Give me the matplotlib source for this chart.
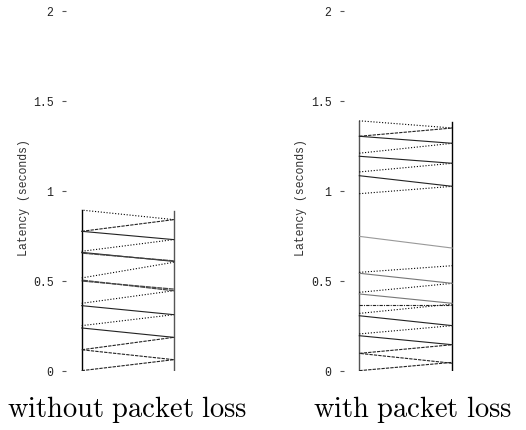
import matplotlib
matplotlib.use("Agg")
import matplotlib.pyplot as plt

# --- data: message send / receive times (seconds) ---
# side: 0 = message goes left->right, 1 = right->left
ticks = [0, 0.5, 1, 1.5, 2]
tick_labels = ["0", "0.5", "1", "1.5", "2"]
titles = ["without packet loss", "with packet loss"]
ylabel = "Latency (seconds)"

# without packet loss
nl_send = [0.002, 0.063, 0.118, 0.187, 0.252, 0.313, 0.376, 0.446, 0.455,
           0.517, 0.609, 0.612, 0.665, 0.730, 0.776, 0.841]
nl_recv = [0.063, 0.118, 0.187, 0.239, 0.313, 0.363, 0.446, 0.505, 0.500,
           0.604, 0.659, 0.655, 0.730, 0.776, 0.841, 0.894]
nl_side = [0, 1, 0, 1, 0, 1, 0, 1, 1, 0, 1, 1, 0, 1, 0, 1]
nl_kind = ["dash", "dash", "dash", "solid", "dot", "solid", "dot", "dense",
           "dense", "dot", "solid", "dense", "dot", "solid", "dash", "dot"]
nl_top = 0.894

# with packet loss
pl_send = [0.002, 0.043, 0.098, 0.146, 0.206, 0.252, 0.320, 0.367, 0.376,
           0.437, 0.487, 0.548, 0.683, 0.985, 1.026, 1.106, 1.154, 1.210,
           1.265, 1.304, 1.350]
pl_recv = [0.048, 0.098, 0.146, 0.196, 0.252, 0.307, 0.372, 0.367, 0.428,
           0.487, 0.543, 0.585, 0.748, 1.026, 1.085, 1.154, 1.193, 1.265,
           1.304, 1.350, 1.390]
pl_side = [0, 1, 0, 1, 0, 1, 0, 0, 1, 0, 1, 0, 1, 0, 1, 0, 1, 0, 1, 0, 1]
pl_kind = ["dash", "dash", "dash", "solid", "dot", "solid", "dot", "dashdot",
           "gray", "dot", "gray", "dot", "light", "dot", "solid", "dot",
           "solid", "dot", "solid", "dash", "dot"]
pl_top = 1.39

styles = {
    "dot": dict(color="black", ls=(0, (1, 1.6)), lw=0.8),
    "dash": dict(color="#222222", ls=(0, (3, 1)), lw=0.8),
    "dense": dict(color="#444444", ls=(0, (4, 0.6)), lw=0.9),
    "solid": dict(color="#222222", ls="-", lw=0.8),
    "gray": dict(color="#777777", ls="-", lw=0.8),
    "light": dict(color="#999999", ls="-", lw=0.8),
    "dashdot": dict(color="#222222", ls=(0, (3, 1, 1, 1)), lw=0.8),
}

plt.rcParams["mathtext.fontset"] = "cm"
W, H = 526, 431
fig = plt.figure(figsize=(W / 100, H / 100), dpi=100)


def panel(x_axis, x_left, x_right, send, recv, side, kind, top, colors, title, title_x):
    unit = x_right - x_left
    x0 = (x_axis - x_left) / unit
    x1 = (x_axis + 120 - x_left) / unit
    ax = fig.add_axes([x_axis / W, (H - 372) / H, 120 / W, 360 / H])
    ax.set_xlim(x0, x1)
    ax.set_ylim(0, 2)
    for s in ax.spines.values():
        s.set_visible(False)
    ax.set_xticks([])
    ax.set_yticks(ticks)
    ax.set_yticklabels(tick_labels, family="Liberation Mono", fontsize=8.3, color="#222222")
    ax.tick_params(axis="y", direction="out", length=3, width=0.8, pad=6, color="#555555")

    # the two end points
    ax.plot([0, 0], [0, top], color=colors[0], lw=1.0)
    ax.plot([1, 1], [0, top - 0.004], color=colors[1], lw=1.0)

    for a, b, sd, k in zip(send, recv, side, kind):
        if sd == 0:
            ax.plot([0, 1], [a, b], **styles[k])
        else:
            ax.plot([1, 0], [a, b], **styles[k])

    fig.text((x_left - 58) / W, (H - 198) / H, ylabel, rotation=90, ha="center", va="center",
             family="Liberation Mono", fontsize=8.3, color="#333333")
    fig.text(title_x / W, 14 / H, r"$\mathrm{" + title.replace(" ", r"\ ") + "}$",
             ha="center", va="baseline", fontsize=20.5)


panel(66, 81.7, 173.7, nl_send, nl_recv, nl_side, nl_kind, nl_top,
      ["black", "#555555"], titles[0], 127.5)
panel(344, 359.3, 452.3, pl_send, pl_recv, pl_side, pl_kind, pl_top,
      ["#555555", "black"], titles[1], 413)

fig.savefig("out.png", dpi=100)
